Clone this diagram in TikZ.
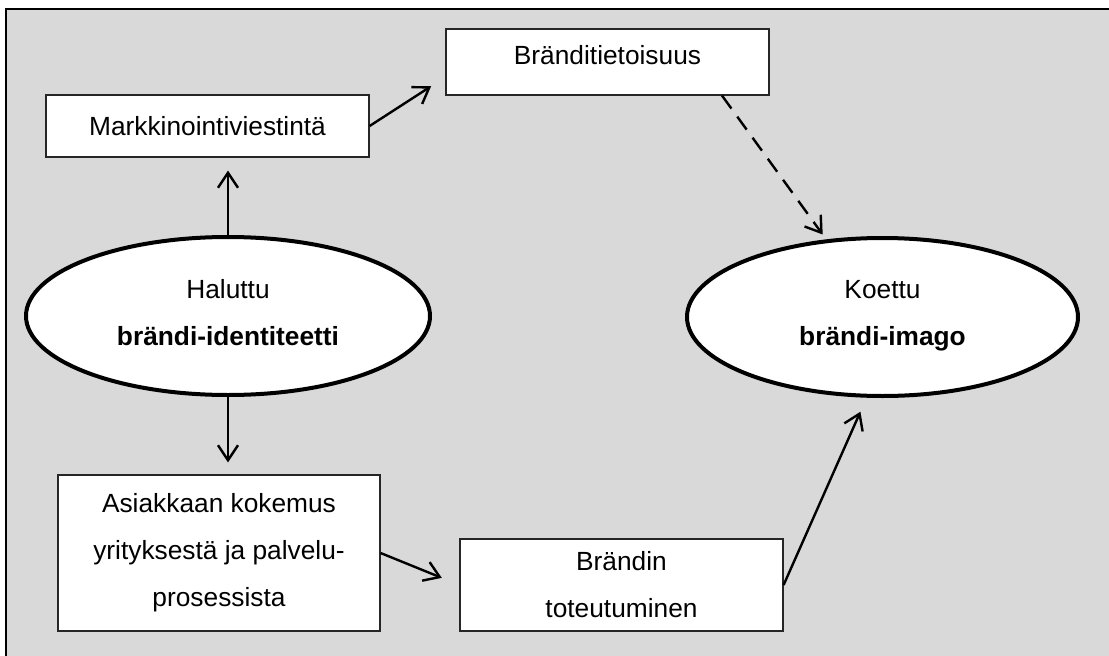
\documentclass[tikz,border=0pt]{standalone}
\usepackage{fontspec}
\setmainfont{Liberation Sans}
\usepackage{tikz}
\usetikzlibrary{arrows.meta,shapes.geometric}
\definecolor{panel}{HTML}{D9D9D9}
\tikzstyle{stage}=[
        draw=black!85,
        line width=1.2pt,
        fill=white,
        inner sep=0pt,
        align=center,
        minimum width=323pt
]
\tikzstyle{brandoval}=[
        ellipse,
        draw,
        line width=4pt,
        fill=white,
        inner sep=0pt,
        align=center,
        minimum height=158pt
]
\tikzstyle{flow}=[
        line width=2.4pt,
        -{Straight Barb[length=15pt,width=20pt]}
]

\begin{document}
\begin{tikzpicture}[x=1pt,y=-1pt,font=\fontsize{26.3}{47}\selectfont]
                        \useasboundingbox (0,0) rectangle (1109,656);
                        \fill[panel] (6,9) rectangle (1109,656);
                        \draw[line width=2pt] (6,656) -- (6,9) -- (1109,9);

                        \node[stage, minimum height=62pt] (mark) at (207.5,126) {Markkinointiviestintä};
                        \node[stage, minimum height=66pt, text depth=14pt] (brand) at (607.5,62) {Bränditietoisuus};
                        \node[stage, minimum width=322pt, minimum height=156pt] (kok) at (219,553) {Asiakkaan kokemus\\yrityksestä ja palvelu-\\prosessista};
                        \node[stage, minimum height=92pt] (toteut) at (621.5,585) {Brändin\\toteutuminen};

                        \node[brandoval, minimum width=404pt, text depth=8pt] (ident) at (228,316) {Haluttu\\\textbf{brändi-identiteetti}};
                        \node[brandoval, minimum width=391pt, text depth=8pt] (imago) at (882.5,317) {Koettu\\\textbf{brändi-imago}};

                        \draw[flow, shorten >=13pt] (ident.north) -- (ident.north |- mark.south);
                        \draw[flow, shorten >=12pt] (ident.south) -- (ident.south |- kok.north);
                        \draw[flow, shorten >=17pt] (mark.east) -- ([yshift=-15pt]brand.west);
                        \draw[flow, shorten >=19pt] (kok.east) -- (toteut.west);
                        \draw[flow, dash pattern=on 16pt off 10pt, shorten >=6pt] ([xshift=114.5pt]brand.south) -- (imago);
                        \draw[flow, shorten >=15pt] (toteut.east) -- ([xshift=-16pt]imago.south);

                    \end{tikzpicture}
\end{document}
